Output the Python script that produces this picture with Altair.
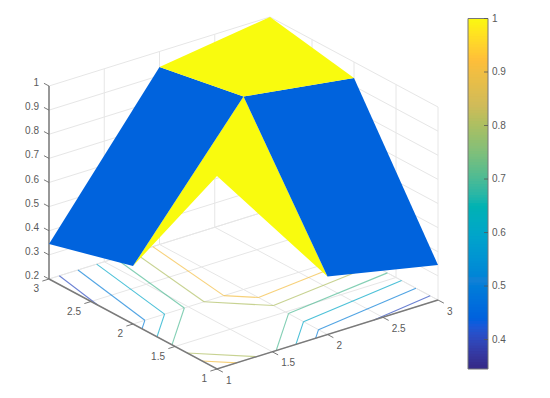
import altair as alt
import pandas as pd

# Surface heights, one row per value of the second horizontal coordinate
AXIS_GRID = [1, 2, 3]
Z_ROW_1 = [1.0, 0.44, 0.345]
Z_ROW_2 = [0.44, 1.0, 0.934]
Z_ROW_3 = [0.345, 0.936, 1.0]
Z = [Z_ROW_1, Z_ROW_2, Z_ROW_3]

CONTOUR_LEVELS = [0.4, 0.5, 0.6, 0.7, 0.8, 0.9]
HORIZONTAL_TICKS = [1, 1.5, 2, 2.5, 3]
HORIZONTAL_LABELS = ["1", "1.5", "2", "2.5", "3"]
Z_TICKS = [0.2, 0.3, 0.4, 0.5, 0.6, 0.7, 0.8, 0.9, 1.0]
Z_LABELS = ["0.2", "0.3", "0.4", "0.5", "0.6", "0.7", "0.8", "0.9", "1"]
BAR_TICKS = [0.4, 0.5, 0.6, 0.7, 0.8, 0.9, 1.0]
BAR_LABELS = ["0.4", "0.5", "0.6", "0.7", "0.8", "0.9", "1"]
BAR_STEPS = 128

PARULA = ["#352A87", "#0F5CDD", "#1481D6", "#06A4CA", "#2EB7A4",
          "#87BF77", "#D1BB59", "#FEBE3A", "#F9FB0E"]
Z_MIN, Z_MAX = 0.345, 1.0


# The fixed 3-D view of the box, as page pixels
def project(a, b, z):
    x = 217 + (a - 1) * 110.5 - (b - 1) * 84
    y = 369 - (a - 1) * 34.5 - (b - 1) * 45 - (z - 0.2) / 0.8 * 193
    return x, y


def bar_y(v):
    return 18.5 + (1 - v) / (Z_MAX - Z_MIN) * 350.5


# --- grid lines on the floor and back walls
def segments(rows):
    out = []
    for k, pts in enumerate(rows):
        for i, p in enumerate(pts):
            x, y = project(*p)
            out.append({"seg": k, "i": i, "x": x, "y": y})
    return pd.DataFrame(out)


grid_rows = []
for t in HORIZONTAL_TICKS:
    grid_rows.append([(t, 1, 0.2), (t, 3, 0.2), (t, 3, 1.0)])
    grid_rows.append([(1, t, 0.2), (3, t, 0.2), (3, t, 1.0)])
for z in Z_TICKS:
    grid_rows.append([(1, 3, z), (3, 3, z), (3, 1, z)])
grid_df = segments(grid_rows)

# --- axis lines and tick marks
axis_df = segments([[(1, 3, 0.2), (1, 3, 1.0)],
                    [(1, 3, 0.2), (1, 1, 0.2), (3, 1, 0.2)]])
tick_rows = []
for z in Z_TICKS:
    tick_rows.append([(1, 3, z), (1, 3.06, z)])
for t in HORIZONTAL_TICKS:
    tick_rows.append([(1, t, 0.2), (0.94, t, 0.2)])
    tick_rows.append([(t, 1, 0.2), (t, 0.93, 0.2)])
tick_df = segments(tick_rows)


# --- contour lines on the floor, marched over the grid cells
contour_rows = []
seg_id = 0


def crossing(p, q, zp, zq, level):
    t = (level - zp) / (zq - zp)
    return (p[0] + t * (q[0] - p[0]), p[1] + t * (q[1] - p[1]))


for level in CONTOUR_LEVELS:
    for j in range(2):
        for i in range(2):
            corners = [(i, j), (i + 1, j), (i + 1, j + 1), (i, j + 1)]
            vals = [Z[c[1]][c[0]] for c in corners]
            found = {}
            for e in range(4):
                f = (e + 1) % 4
                if (vals[e] - level) * (vals[f] - level) < 0:
                    found[e] = crossing(corners[e], corners[f], vals[e], vals[f], level)
            if len(found) == 2:
                pairs = [tuple(found)]
            elif len(found) == 4:
                centre = sum(vals) / 4
                if (centre > level) == (vals[0] > level):
                    pairs = [(0, 1), (2, 3)]
                else:
                    pairs = [(3, 0), (1, 2)]
            else:
                pairs = []
            for e1, e2 in pairs:
                for k, e in enumerate((e1, e2)):
                    x, y = project(AXIS_GRID[0] + found[e][0], AXIS_GRID[0] + found[e][1], 0.2)
                    contour_rows.append({"seg": seg_id, "i": k, "x": x, "y": y, "c": level})
                seg_id += 1
contour_df = pd.DataFrame(contour_rows)

# --- surface faces, flat coloured from each cell's first corner
face_rows = []
for j in range(2):
    for i in range(2):
        corners = [(i, j), (i + 1, j), (i + 1, j + 1), (i, j + 1), (i, j)]
        for n, c in enumerate(corners):
            x, y = project(AXIS_GRID[c[0]], AXIS_GRID[c[1]], Z[c[1]][c[0]])
            face_rows.append({"face": j * 2 + i, "i": n, "x": x, "y": y, "c": Z[j][i]})
face_df = pd.DataFrame(face_rows)

# --- labels
z_label_rows = []
for z, s in zip(Z_TICKS, Z_LABELS):
    x, y = project(1, 3, z)
    z_label_rows.append({"x": x, "y": y, "s": s})
left_rows = []
right_rows = []
for t, s in zip(HORIZONTAL_TICKS, HORIZONTAL_LABELS):
    x, y = project(1, t, 0.2)
    left_rows.append({"x": x, "y": y, "s": s})
    x, y = project(t, 1, 0.2)
    right_rows.append({"x": x, "y": y, "s": s})

# --- colour bar: the colour scale sampled from its bottom to its top
bar_rows = []
for n in range(BAR_STEPS):
    low = Z_MIN + (Z_MAX - Z_MIN) * n / BAR_STEPS
    high = Z_MIN + (Z_MAX - Z_MIN) * (n + 1) / BAR_STEPS
    # each band runs on under the next one, so no background shows between them
    top = bar_y(high) - (1.5 if n < BAR_STEPS - 1 else 0)
    bar_rows.append({"n": n, "y": bar_y(low), "y2": top, "c": (low + high) / 2})
bar_df = pd.DataFrame(bar_rows)
bar_frame_df = pd.DataFrame({"y": [bar_y(Z_MIN)], "y2": [bar_y(Z_MAX)]})
bar_tick_df = pd.DataFrame({"y": [bar_y(v) for v in BAR_TICKS], "s": BAR_LABELS})

X = alt.X("x:Q", scale=alt.Scale(domain=[8, 542], nice=False, zero=False), axis=None)
Y = alt.Y("y:Q", scale=alt.Scale(domain=[390, 8], nice=False, zero=False), axis=None)
color_scale = alt.Scale(domain=[Z_MIN, Z_MAX], range=PARULA, nice=False, zero=False)
FONT = "Liberation Sans"
TEXT = "#5a5a5a"

grid = alt.Chart(grid_df).mark_line(stroke="#e6e6e6", strokeWidth=1).encode(
    x=X, y=Y, detail="seg:N", order="i:Q")
contours = alt.Chart(contour_df).mark_line(strokeWidth=1.1, opacity=0.7).encode(
    x=X, y=Y, detail="seg:N", order="i:Q",
    stroke=alt.Stroke("c:Q", scale=color_scale, legend=None))
axes = alt.Chart(axis_df).mark_line(stroke="#7a7a7a", strokeWidth=1.5).encode(
    x=X, y=Y, detail="seg:N", order="i:Q")
ticks = alt.Chart(tick_df).mark_line(stroke="#6a6a6a", strokeWidth=0.9).encode(
    x=X, y=Y, detail="seg:N", order="i:Q")
faces = alt.Chart(face_df).mark_line(strokeWidth=0).encode(
    x=X, y=Y, detail="face:N", order="i:Q",
    fill=alt.Fill("c:Q", scale=color_scale, legend=None))
z_text = alt.Chart(pd.DataFrame(z_label_rows)).mark_text(
    align="right", baseline="middle", dx=-10, dy=-3, font=FONT, fontSize=10, color=TEXT
).encode(x=X, y=Y, text="s:N")
left_text = alt.Chart(pd.DataFrame(left_rows)).mark_text(
    align="right", baseline="middle", dx=-10, dy=10, font=FONT, fontSize=10, color=TEXT
).encode(x=X, y=Y, text="s:N")
right_text = alt.Chart(pd.DataFrame(right_rows)).mark_text(
    align="left", baseline="middle", dx=9, dy=11.5, font=FONT, fontSize=10, color=TEXT
).encode(x=X, y=Y, text="s:N")

bar = alt.Chart(bar_df).mark_rect().encode(
    x=alt.value(460), x2=alt.value(480), y=Y, y2="y2:Q",
    fill=alt.Fill("c:Q", scale=color_scale, legend=None),
    order=alt.Order("n:Q", sort="descending"))
bar_frame = alt.Chart(bar_frame_df).mark_rect(
    fillOpacity=0, stroke="#777777", strokeWidth=1
).encode(x=alt.value(460), x2=alt.value(480), y=Y, y2="y2:Q")
bar_ticks = alt.Chart(bar_tick_df).mark_rule(stroke="#555555", strokeWidth=0.8).encode(
    x=alt.value(476), x2=alt.value(480), y=Y)
bar_text = alt.Chart(bar_tick_df).mark_text(
    align="left", baseline="middle", font=FONT, fontSize=10, color=TEXT
).encode(x=alt.value(484), y=Y, text="s:N")

chart = alt.layer(
    grid, contours, axes, ticks, faces, z_text, left_text, right_text,
    bar, bar_frame, bar_ticks, bar_text
).properties(
    width=534, height=382, padding=0, autosize=alt.AutoSizeParams(type="none")
).configure_view(stroke=None)

chart.save("out.html", embed_options={"renderer": "svg", "actions": False})
